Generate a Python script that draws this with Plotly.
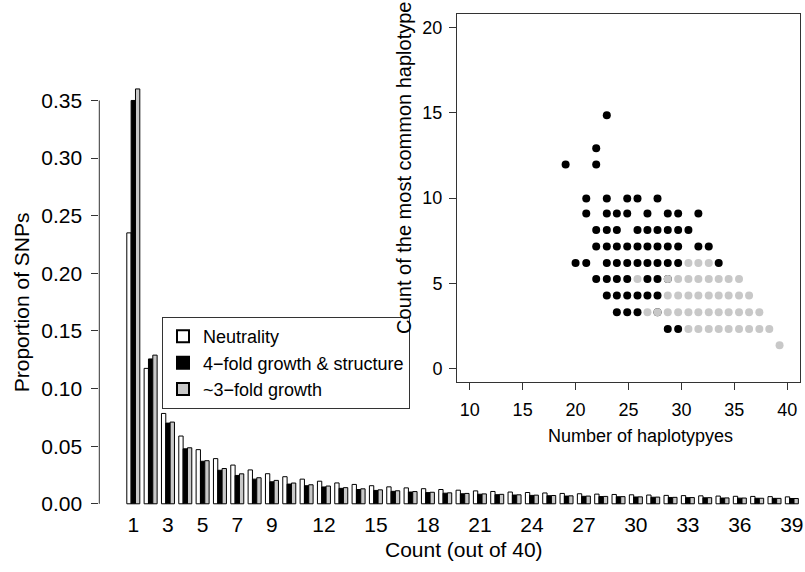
import plotly.graph_objects as go

# Site frequency spectrum: derived-allele count out of 40 sampled chromosomes
counts = list(range(1, 40))
neutral = [0.2351, 0.1175, 0.0784, 0.0588, 0.0470, 0.0392, 0.0336, 0.0294, 0.0261, 0.0235,
           0.0214, 0.0196, 0.0181, 0.0168, 0.0157, 0.0147, 0.0138, 0.0131, 0.0124, 0.0118,
           0.0112, 0.0107, 0.0102, 0.0098, 0.0094, 0.0090, 0.0087, 0.0084, 0.0081, 0.0078,
           0.0076, 0.0073, 0.0071, 0.0069, 0.0067, 0.0065, 0.0064, 0.0062, 0.0060]
growth_structure = [0.3500, 0.1257, 0.0700, 0.0477, 0.0369, 0.0291, 0.0246, 0.0214, 0.0191, 0.0171,
                    0.0157, 0.0146, 0.0134, 0.0124, 0.0116, 0.0108, 0.0102, 0.0097, 0.0092, 0.0087,
                    0.0083, 0.0079, 0.0076, 0.0073, 0.0070, 0.0067, 0.0065, 0.0063, 0.0061, 0.0059,
                    0.0057, 0.0055, 0.0053, 0.0052, 0.0050, 0.0049, 0.0048, 0.0047, 0.0046]
growth3 = [0.3600, 0.1290, 0.0709, 0.0486, 0.0374, 0.0306, 0.0260, 0.0226, 0.0203, 0.0180,
           0.0165, 0.0154, 0.0140, 0.0130, 0.0121, 0.0113, 0.0106, 0.0100, 0.0095, 0.0090,
           0.0086, 0.0082, 0.0078, 0.0075, 0.0072, 0.0069, 0.0067, 0.0064, 0.0062, 0.0060,
           0.0058, 0.0056, 0.0054, 0.0053, 0.0051, 0.0050, 0.0048, 0.0047, 0.0046]
count_ticks = [1, 3, 5, 7, 9, 12, 15, 18, 21, 24, 27, 30, 33, 36, 39]
prop_ticks = [0.00, 0.05, 0.10, 0.15, 0.20, 0.25, 0.30, 0.35]

# Haplotype summaries: number of haplotypes vs count of the most common haplotype
hap_black_x = [22.95,
               21.95,
               19.06, 21.95,
               21.01, 22.95, 24.88, 25.85, 27.74,
               21.01, 22.95, 23.90, 24.88, 26.79, 28.71, 29.69, 31.60,
               21.95, 22.95, 23.90, 25.85, 26.79, 27.74, 28.71, 29.69, 30.66,
               21.95, 22.95, 23.90, 24.88, 25.85, 26.79, 27.74, 28.71, 29.69, 31.60, 32.58,
               20.00, 21.01, 22.95, 23.90, 24.88, 25.85, 26.79, 27.74, 28.71, 29.69, 33.52,
               21.95, 22.95, 23.90, 24.88, 26.79, 27.74, 28.71,
               22.95, 23.90, 24.88, 25.85, 26.79, 27.74,
               23.90, 24.88, 25.85, 27.74,
               28.71, 29.69]
hap_black_y = [14.86,
               12.92,
               11.96, 11.96,
               9.97, 9.97, 9.97, 9.97, 9.97,
               9.10, 9.10, 9.10, 9.10, 9.10, 9.10, 9.10, 9.10,
               8.12, 8.12, 8.12, 8.12, 8.12, 8.12, 8.12, 8.12, 8.12,
               7.16, 7.16, 7.16, 7.16, 7.16, 7.16, 7.16, 7.16, 7.16, 7.16, 7.16,
               6.19, 6.19, 6.19, 6.19, 6.19, 6.19, 6.19, 6.19, 6.19, 6.19, 6.19,
               5.25, 5.25, 5.25, 5.25, 5.25, 5.25, 5.25,
               4.28, 4.28, 4.28, 4.28, 4.28, 4.28,
               3.30, 3.30, 3.30, 3.30,
               2.33, 2.33]
hap_grey_x = [30.66, 31.60, 32.58,
              25.85, 28.71, 29.69, 30.66, 31.60, 32.58, 33.52, 34.46, 35.44,
              28.71, 29.69, 30.66, 31.60, 32.58, 33.52, 34.46, 35.44, 36.39,
              26.79, 27.74, 28.71, 29.69, 30.66, 31.60, 32.58, 33.52, 34.46, 35.44, 36.39, 37.36,
              30.66, 31.60, 32.58, 33.52, 34.46, 35.44, 36.39, 37.36, 38.30,
              39.27]
hap_grey_y = [6.19, 6.19, 6.19,
              5.25, 5.25, 5.25, 5.25, 5.25, 5.25, 5.25, 5.25, 5.25,
              4.28, 4.28, 4.28, 4.28, 4.28, 4.28, 4.28, 4.28, 4.28,
              3.30, 3.30, 3.30, 3.30, 3.30, 3.30, 3.30, 3.30, 3.30, 3.30, 3.30, 3.30,
              2.33, 2.33, 2.33, 2.33, 2.33, 2.33, 2.33, 2.33, 2.33,
              1.37]
hap_x_ticks = [10, 15, 20, 25, 30, 35, 40]
hap_y_ticks = [0, 5, 10, 15, 20]

W, H = 805, 572
FONT = "Liberation Sans, Arial, Helvetica, sans-serif"
GREY = "#c8c8c8"


def px(x):
    return x / W


def py(y):
    return (H - y) / H


fig = go.Figure()

bar_style = dict(line=dict(color="black", width=1))
fig.add_trace(go.Bar(x=counts, y=neutral, name="Neutrality",
                     marker=dict(color="white", **bar_style)))
fig.add_trace(go.Bar(x=counts, y=growth_structure, name="4\u2212fold growth & structure",
                     marker=dict(color="black", **bar_style)))
fig.add_trace(go.Bar(x=counts, y=growth3, name="~3\u2212fold growth",
                     marker=dict(color=GREY, **bar_style)))

fig.add_trace(go.Scatter(x=hap_black_x, y=hap_black_y, mode="markers", xaxis="x2", yaxis="y2",
                         marker=dict(color="black", size=8, line=dict(width=0)),
                         showlegend=False, hoverinfo="skip"))
fig.add_trace(go.Scatter(x=hap_grey_x, y=hap_grey_y, mode="markers", xaxis="x2", yaxis="y2",
                         marker=dict(color=GREY, size=8, line=dict(width=0)),
                         showlegend=False, hoverinfo="skip"))

tick_font = dict(family=FONT, size=21, color="black")
inset_font = dict(family=FONT, size=18, color="black")

fig.update_layout(
    width=W, height=H,
    margin=dict(l=0, r=0, t=0, b=0),
    paper_bgcolor="white", plot_bgcolor="white",
    barmode="group", bargap=0.25, bargroupgap=0,
    font=dict(family=FONT, color="black"),
    xaxis=dict(domain=[px(99.3), 1.0], range=[-0.962, 39.76],
               tickmode="array", tickvals=count_ticks, ticktext=[str(c) for c in count_ticks],
               ticks="", showline=False, showgrid=False, zeroline=False,
               tickfont=tick_font, ticklabelstandoff=2),
    yaxis=dict(domain=[py(514.7), py(66.7)], range=[-0.004, 0.38],
               tickmode="array", tickvals=prop_ticks, ticktext=[f"{v:.2f}" for v in prop_ticks],
               ticks="outside", ticklen=7, tickwidth=1, tickcolor="#333",
               showline=False, showgrid=False, zeroline=False,
               tickfont=tick_font, ticklabelstandoff=5),
    xaxis2=dict(domain=[px(457), px(800)], range=[8.8, 41.2], anchor="y2",
                tickmode="array", tickvals=hap_x_ticks,
                ticks="outside", ticklen=7, tickwidth=1, tickcolor="#333",
                showline=True, mirror=True, linecolor="#333", linewidth=1,
                showgrid=False, zeroline=False, tickfont=inset_font, ticklabelstandoff=4),
    yaxis2=dict(domain=[py(387), py(14)], range=[-0.8, 20.8], anchor="x2",
                tickmode="array", tickvals=hap_y_ticks,
                ticks="outside", ticklen=7, tickwidth=1, tickcolor="#333",
                showline=True, mirror=True, linecolor="#333", linewidth=1,
                showgrid=False, zeroline=False, tickfont=inset_font, ticklabelstandoff=3),
    legend=dict(x=px(162), y=py(321), xanchor="left", yanchor="top",
                bgcolor="white", bordercolor="#333", borderwidth=1,
                font=dict(family=FONT, size=18, color="black"),
                traceorder="normal", itemsizing="constant"),
    shapes=[
        # left axis line spanning the labelled tick range only
        dict(type="line", xref="x domain", x0=0, x1=0, yref="y", y0=0, y1=0.35,
             line=dict(color="#333", width=1)),
    ],
    annotations=[
        dict(text="Proportion of SNPs", x=px(21), y=py(306), xref="paper", yref="paper",
             textangle=-90, showarrow=False, font=dict(family=FONT, size=21, color="black"),
             xanchor="center", yanchor="middle"),
        dict(text="Count (out of 40)", x=px(464), y=py(556), xref="paper", yref="paper",
             showarrow=False, font=dict(family=FONT, size=21, color="black"),
             xanchor="center", yanchor="middle"),
        dict(text="Number of haplotypyes", x=px(640), y=py(441), xref="paper", yref="paper",
             showarrow=False, font=dict(family=FONT, size=18, color="black"),
             xanchor="center", yanchor="middle"),
        dict(text="Count of the most common haplotype", x=px(404), y=py(170),
             xref="paper", yref="paper", textangle=-90, showarrow=False,
             font=dict(family=FONT, size=20, color="black"),
             xanchor="center", yanchor="middle"),
    ],
)

fig.write_html("out.html")
